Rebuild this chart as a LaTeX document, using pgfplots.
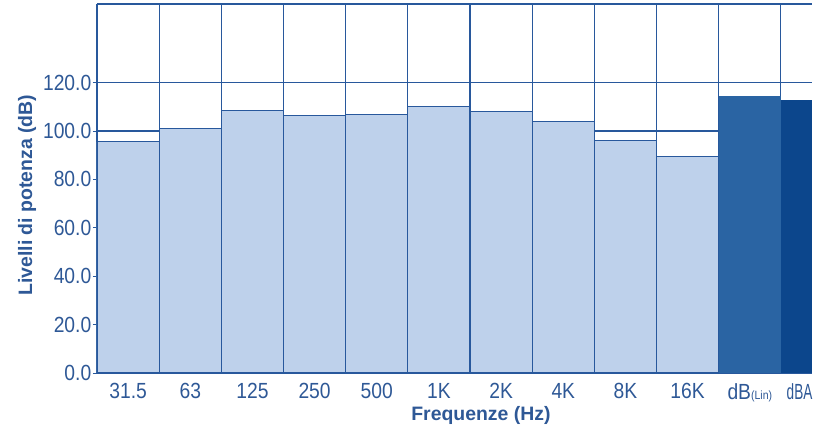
\documentclass[border=0pt]{standalone}
\usepackage{pgfplots}
\pgfplotsset{compat=1.18}
\usepackage{fontspec}
\setmainfont{Liberation Sans}
\newfontfamily\tickfont[FakeStretch=0.88]{Liberation Sans}
\newfontfamily\narrowfont[FakeStretch=0.62]{Liberation Sans}
\definecolor{barfill}{RGB}{190,209,235}
\definecolor{linecol}{RGB}{40,88,156}
\definecolor{txtcol}{RGB}{46,88,150}
\definecolor{dblin}{RGB}{42,100,163}
\definecolor{dba}{RGB}{12,70,140}
\begin{document}
\begin{tikzpicture}
\begin{axis}[
  scale only axis, width=715bp, height=369bp,
  xmin=-0.5, xmax=11, ymin=0, ymax=152.5,
  axis x line=bottom, axis y line=left,
  axis line style={-, linecol, line width=1.2pt},
  ytick={0,20,40,60,80,100,120},
  ymajorgrids,
  xtick={0,1,2,3,4,5,6,7,8,9,10,10.8},
  xticklabels={31.5,63,125,250,500,1K,2K,4K,8K,16K,{dB{\fontsize{12}{13}\selectfont(Lin)}},{\narrowfont dBA}},
  minor xtick={0.5,1.5,2.5,3.5,4.5,5.5,6.5,7.5,8.5,9.5,10.5},
  xminorgrids,
  grid style={linecol, line width=1.1pt},
  minor grid style={linecol, line width=1.1pt},
  tick align=outside,
  major tick length=4bp, minor tick length=0pt,
  xtick style={draw=none},
  ytick style={linecol, line width=1pt},
  /pgf/number format/assume math mode=true,
  yticklabel style={/pgf/number format/.cd, fixed, fixed zerofill, precision=1, /tikz/.cd,
    font=\tickfont\fontsize{22}{24}\selectfont, text=txtcol, inner sep=1.5bp},
  xticklabel style={font=\tickfont\fontsize{22}{24}\selectfont, text=txtcol, inner sep=3bp, yshift=-3bp},
  every axis y label/.style={at={(axis description cs:-0.0979,0.482)}, anchor=center, rotate=90,
    font=\fontsize{19.5}{21}\selectfont\bfseries, text=txtcol},
  every axis x label/.style={at={(axis description cs:0.537,-0.114)}, anchor=center,
    font=\fontsize{19.5}{21}\selectfont\bfseries, text=txtcol},
  ylabel={Livelli di potenza (dB)},
  xlabel={Frequenze (Hz)},
  clip=true,
  after end axis/.code={\draw[linecol, line width=1.1pt] (rel axis cs:0,1) -- (rel axis cs:1,1);},
]
\addplot[ybar, bar width=1, bar shift=0pt, fill=barfill, draw=linecol, line width=1.1pt]
  coordinates {(0,95.5) (1,101) (2,108.5) (3,106.5) (4,107) (5,110) (6,108) (7,104) (8,96) (9,89.5)};
\addplot[ybar, bar width=1, bar shift=0pt, fill=dblin, draw=none]
  coordinates {(10,114.5)};
\addplot[ybar, bar width=0.5, bar shift=0pt, fill=dba, draw=none]
  coordinates {(10.75,113)};
\coordinate (bl) at (rel axis cs:0,0);
\end{axis}
\pgfresetboundingbox
\path[use as bounding box] ([shift={(-97bp,-55bp)}]bl) rectangle ([shift={(738bp,373bp)}]bl);
\end{tikzpicture}
\end{document}
